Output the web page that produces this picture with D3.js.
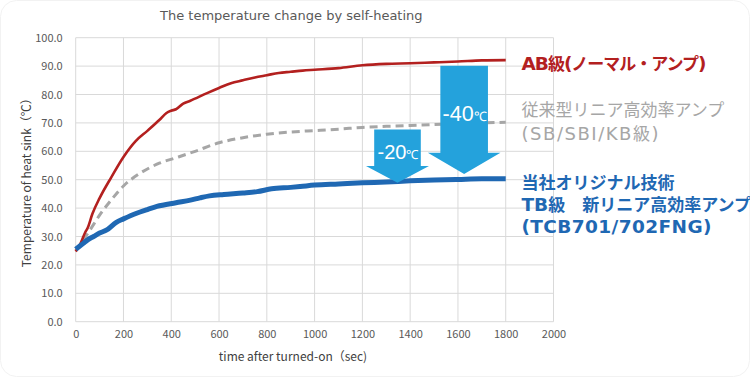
<!DOCTYPE html>
<html>
<head>
<meta charset="utf-8">
<script src="https://cdn.jsdelivr.net/npm/d3@7"></script>
<style>
  html, body { margin: 0; padding: 0; background: #fff; }
  svg { display: block; font-family: "Noto Sans CJK JP", "Noto Sans", sans-serif; }
</style>
</head>
<body>
<div id="chart"></div>
<script>
// temperature of heat sink (℃) vs. time after turn-on (sec)
const abSeries = [
  [0, 24.7], [20, 27.5], [40, 31.5], [50, 33], [70, 38], [100, 43.5], [150, 51],
  [200, 58], [250, 63.5], [300, 67.2], [350, 71], [380, 73.5], [400, 74.3],
  [420, 74.8], [450, 76.8], [480, 77.8], [550, 80.5], [600, 82.3], [650, 84],
  [700, 85], [750, 86], [800, 86.8], [850, 87.6], [900, 88], [950, 88.4],
  [1000, 88.7], [1100, 89.3], [1200, 90.3], [1300, 90.8], [1400, 91],
  [1500, 91.3], [1600, 91.6], [1700, 92], [1800, 92.1]
]
const sbSeries = [
  [0, 25], [30, 28.5], [60, 32.3], [100, 37.5], [150, 43], [200, 47.8],
  [270, 52.3], [350, 55.8], [430, 58], [500, 60], [600, 63], [700, 64.8],
  [800, 66], [900, 66.8], [1000, 67.3], [1100, 67.8], [1200, 68.4],
  [1300, 68.8], [1400, 69.1], [1500, 69.4], [1600, 69.7], [1700, 70], [1800, 70.2]
]
const tbSeries = [
  [0, 25.5], [20, 26.8], [35, 27.8], [50, 28.8], [75, 30], [100, 31.2],
  [130, 32.3], [170, 35], [200, 36.2], [255, 38.2], [300, 39.5], [340, 40.6],
  [420, 41.9], [480, 42.8], [520, 43.6], [560, 44.3], [620, 44.8], [700, 45.3],
  [760, 45.8], [820, 46.8], [900, 47.3], [940, 47.6], [1000, 48.1], [1100, 48.5],
  [1200, 48.9], [1300, 49.2], [1400, 49.6], [1500, 49.9], [1600, 50.1],
  [1700, 50.3], [1800, 50.3]
]

const xTicks = d3.range(0, 2001, 200)
const yTicks = d3.range(0, 101, 10)

// drop arrows: time, from temp, to temp, label
const arrows = [
  { t: 1347, from: 67.7, to: 48.9, label: "-20" },
  { t: 1626, from: 90.1, to: 52.0, label: "-40" }
]

const labelsAB = ["AB級(ノーマル・アンプ)"]
const labelsSB = ["従来型リニア高効率アンプ", "(SB/SBI/KB級)"]
const labelsTB = ["当社オリジナル技術", "TB級\u3000新リニア高効率アンプ", "(TCB701/702FNG)"]

const width = 750
const height = 377
const margin = { left: 75.7, right: 196.5, top: 37.7, bottom: 55.3 }

const svg = d3.select("#chart").append("svg")
  .attr("width", width)
  .attr("height", height)

svg.append("rect")
  .attr("x", 0.5).attr("y", 0.5)
  .attr("width", width - 1).attr("height", height - 1)
  .attr("rx", 16)
  .attr("fill", "#fff")
  .attr("stroke", "#f2f2f2")

const x = d3.scaleLinear().domain([0, 2000]).range([margin.left, width - margin.right])
const y = d3.scaleLinear().domain([0, 100]).range([height - margin.bottom, margin.top])

// grid
const grid = svg.append("g")
grid.selectAll("line.v")
  .data(xTicks)
  .join("line")
  .attr("class", "v")
  .attr("x1", d => x(d)).attr("x2", d => x(d))
  .attr("y1", y(0)).attr("y2", y(100))
  .attr("stroke", "#d9d9d9")
  .attr("stroke-width", 1)
grid.selectAll("line.h")
  .data(yTicks)
  .join("line")
  .attr("class", "h")
  .attr("x1", x(0)).attr("x2", x(2000))
  .attr("y1", d => y(d)).attr("y2", d => y(d))
  .attr("stroke", "#d9d9d9")
  .attr("stroke-width", 1)

// axes (labels only)
const xAxis = svg.append("g")
  .attr("transform", `translate(0, ${y(0)})`)
  .call(d3.axisBottom(x).tickValues(xTicks).tickFormat(d3.format("d")).tickSize(0).tickPadding(9))
xAxis.select(".domain").remove()
xAxis.selectAll("text")
  .attr("fill", "#595959")
  .style("font-size", "11px")
  .style("font-family", "'Noto Sans CJK JP', sans-serif")

const yAxis = svg.append("g")
  .attr("transform", `translate(${x(0)}, 0)`)
  .call(d3.axisLeft(y).tickValues(yTicks).tickFormat(d3.format(".1f")).tickSize(0).tickPadding(13))
yAxis.select(".domain").remove()
yAxis.selectAll("text")
  .attr("fill", "#595959")
  .style("font-size", "11px")
  .style("font-family", "'Noto Sans CJK JP', sans-serif")

// titles
svg.append("text")
  .attr("x", 160)
  .attr("y", 20)
  .attr("fill", "#595959")
  .style("font-size", "13px")
  .style("font-family", "'DejaVu Sans', sans-serif")
  .text("The temperature change by self-heating")

svg.append("text")
  .attr("x", 293)
  .attr("y", 361)
  .attr("text-anchor", "middle")
  .attr("fill", "#404040")
  .style("font-size", "12px")
  .text("time after turned-on（sec)")

svg.append("text")
  .attr("transform", `translate(31, ${y(50)}) rotate(-90)`)
  .attr("text-anchor", "middle")
  .attr("fill", "#404040")
  .style("font-size", "12px")
  .text("Temperature of heat sink（℃）")

// series
const line = d3.line()
  .x(d => x(d[0]))
  .y(d => y(d[1]))
  .curve(d3.curveMonotoneX)

svg.append("path")
  .datum(sbSeries)
  .attr("d", line)
  .attr("fill", "none")
  .attr("stroke", "#a6a6a6")
  .attr("stroke-width", 3)
  .attr("stroke-dasharray", "8,5")

svg.append("path")
  .datum(abSeries)
  .attr("d", line)
  .attr("fill", "none")
  .attr("stroke", "#b3201f")
  .attr("stroke-width", 2.6)
  .attr("stroke-linejoin", "round")

svg.append("path")
  .datum(tbSeries)
  .attr("d", line)
  .attr("fill", "none")
  .attr("stroke", "#1f68b3")
  .attr("stroke-width", 5)
  .attr("stroke-linejoin", "round")

// arrows
const arrowShape = [
  { shaft: 23.3, head: 31.5, headLen: 16.7, font: 20, unit: 12.5, dy: 30 },
  { shaft: 23.8, head: 36.3, headLen: 21.3, font: 21.5, unit: 13, dy: 55.5 }
]
const arrowG = svg.append("g")
arrows.forEach((a, i) => {
  const s = arrowShape[i]
  const cx = x(a.t)
  const top = y(a.from)
  const tip = y(a.to)
  const neck = tip - s.headLen
  const pts = [
    [cx - s.shaft, top], [cx + s.shaft, top], [cx + s.shaft, neck],
    [cx + s.head, neck], [cx, tip], [cx - s.head, neck], [cx - s.shaft, neck]
  ]
  arrowG.append("polygon")
    .attr("points", pts.map(p => p.join(",")).join(" "))
    .attr("fill", "#24a2dc")

  const t = arrowG.append("text")
    .attr("x", cx + 0.5)
    .attr("y", top + s.dy)
    .attr("text-anchor", "middle")
    .attr("fill", "#fff")
    .style("font-family", "'Liberation Sans', Arial, sans-serif")
  t.append("tspan").style("font-size", s.font + "px").text(a.label)
  t.append("tspan").style("font-size", s.unit + "px").text("℃")
})

// series labels: latin runs a bit larger than the kana/kanji runs
const cjk = /[\u3000-\u30ff\u4e00-\u9fff\uff00-\uffef]/
function splitRuns(str) {
  const runs = []
  for (const ch of str) {
    const isCjk = cjk.test(ch)
    const last = runs[runs.length - 1]
    if (last && last.cjk === isCjk) last.text += ch
    else runs.push({ cjk: isCjk, text: ch })
  }
  return runs
}

function addLabel(str, opts) {
  const t = svg.append("text")
    .attr("x", 521.5)
    .attr("y", opts.y)
    .attr("fill", opts.color)
    .style("font-weight", opts.bold ? "bold" : "normal")
  if (opts.length) t.attr("textLength", opts.length).attr("lengthAdjust", "spacing")
  splitRuns(str).forEach(r => {
    t.append("tspan")
      .style("font-family", r.cjk ? "'Noto Sans CJK JP', sans-serif" : "'DejaVu Sans', sans-serif")
      .style("font-size", (r.cjk ? 17 : opts.latin) + "px")
      .text(r.text)
  })
}

addLabel(labelsAB[0], { y: 70, color: "#b3201f", bold: true, latin: 18.5, length: 185 })
labelsSB.forEach((d, i) => addLabel(d, {
  y: 115.5 + i * 24, color: "#a6a6a6", bold: false, latin: 18, length: i === 1 ? 137 : null
}))
labelsTB.forEach((d, i) => addLabel(d, {
  y: 188.5 + i * 22, color: "#1f68b3", bold: true, latin: 18.5, length: i === 2 ? 190 : null
}))
</script>
</body>
</html>
